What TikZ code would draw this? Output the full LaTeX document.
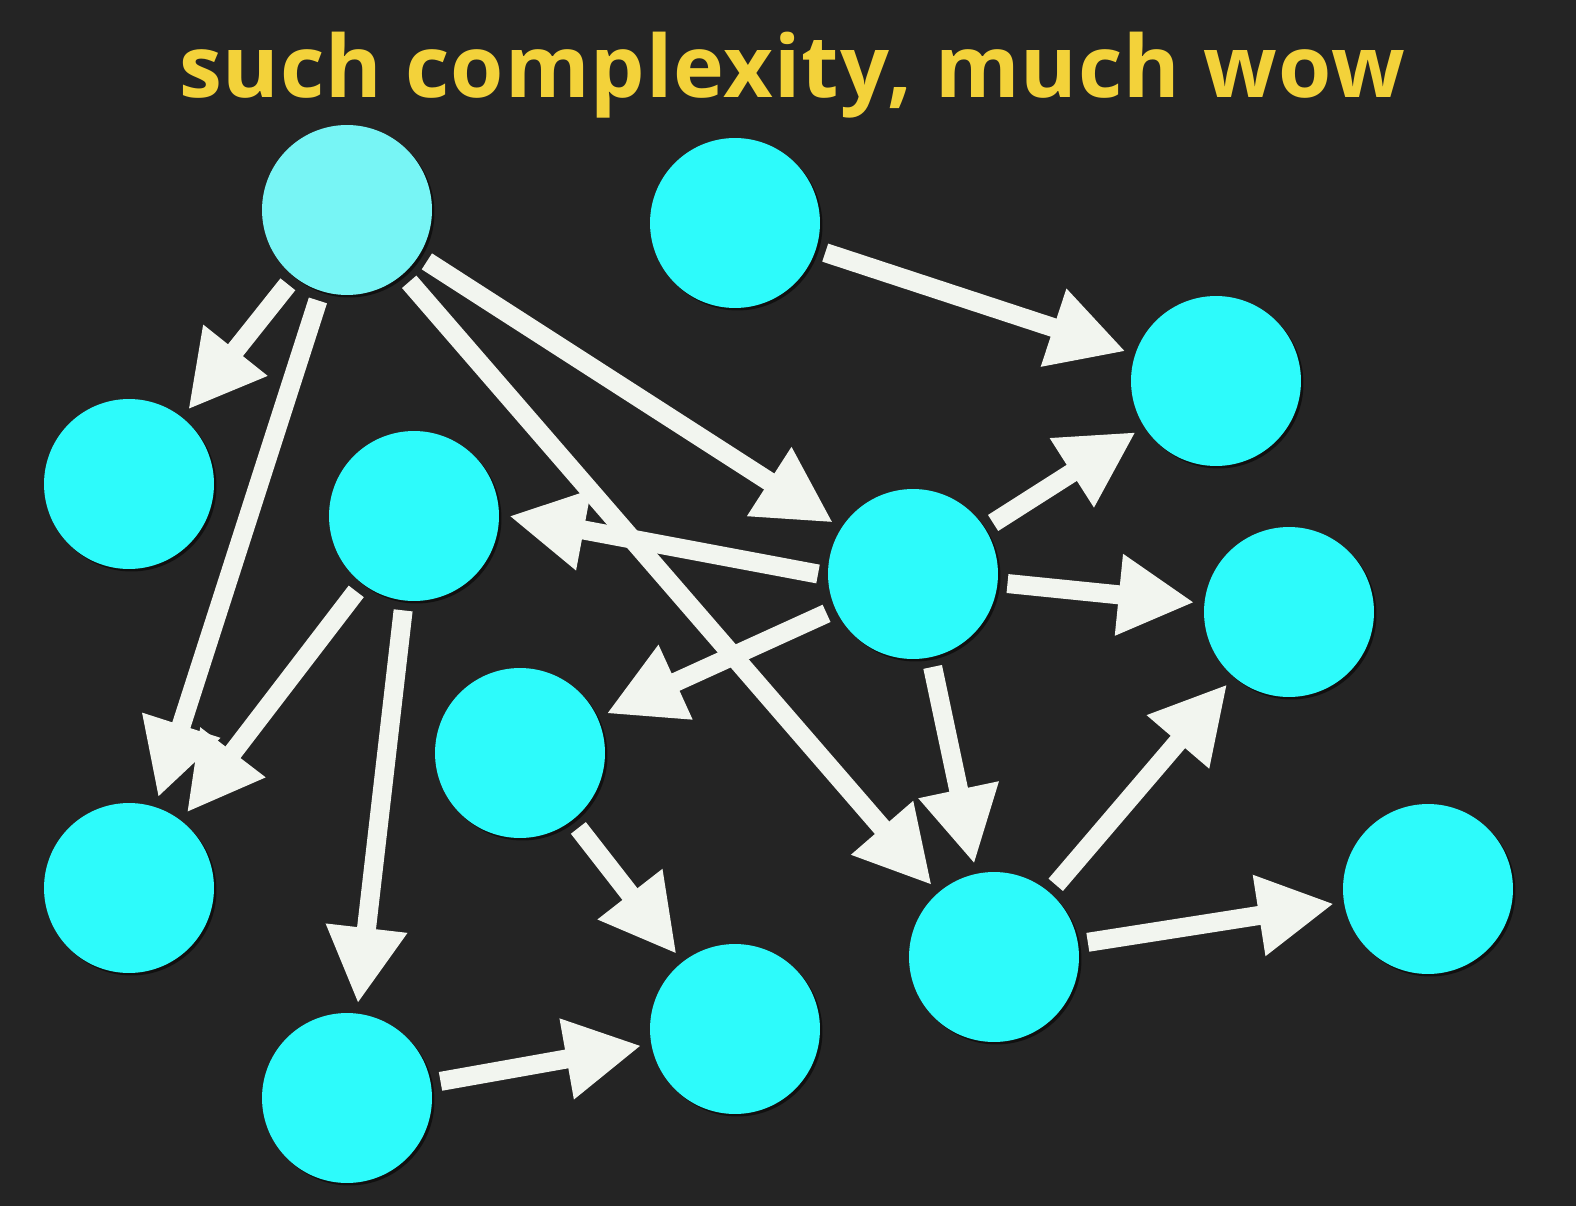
\documentclass[tikz,border=0pt]{standalone}
\usepackage{fontspec}
\setmainfont{Open Sans}
\usetikzlibrary{arrows.meta,shadows}

\definecolor{bg}{RGB}{36,36,36}
\definecolor{dotcyan}{RGB}{45,251,251}
\definecolor{dotpale}{RGB}{119,245,245}
\definecolor{linkcol}{RGB}{242,245,239}
\definecolor{wow}{RGB}{243,210,58}

\tikzset{
  dot/.style={circle,fill=dotcyan,minimum size=3.4cm,inner sep=0pt,outer sep=0.2cm,
    drop shadow={shadow xshift=0.05cm,shadow yshift=-0.05cm,opacity=0.55,fill=black}},
  link/.style={draw=linkcol,line width=0.38cm,-{Triangle[length=1.52cm,width=1.53cm]}},
}

\begin{document}
\begin{tikzpicture}[x=0.02cm,y=-0.02cm]
  \fill[bg] (0,0) rectangle (1576,1206);
  \useasboundingbox (0,0) rectangle (1576,1206);
  \node[anchor=base,text=wow,font=\bfseries\fontsize{49}{59}\selectfont\addfontfeature{LetterSpace=1.2}] (title) at (792,97.5) {such complexity, much wow};

  \node[dot,fill=dotpale] (a) at (347,210) {};
  \node[dot] (b) at (735,223) {};
  \node[dot] (c) at (1216,381) {};
  \node[dot] (d) at (129,484) {};
  \node[dot] (e) at (414,516) {};
  \node[dot] (f) at (913,574) {};
  \node[dot] (g) at (1289,612) {};
  \node[dot] (h) at (520,753) {};
  \node[dot] (i) at (129,888) {};
  \node[dot] (j) at (1428,889) {};
  \node[dot] (k) at (994,957) {};
  \node[dot] (l) at (735,1029) {};
  \node[dot] (m) at (347,1098) {};

  \foreach \from/\to in {b/c,a/d,a/i,a/f,a/k,e/i,e/m,f/c,f/g,f/h,f/k,h/l,k/g,k/j,m/l}
    \draw[link] (\from) -- (\to);
  \draw[link] (f.west) -- (e.east);
\end{tikzpicture}
\end{document}
